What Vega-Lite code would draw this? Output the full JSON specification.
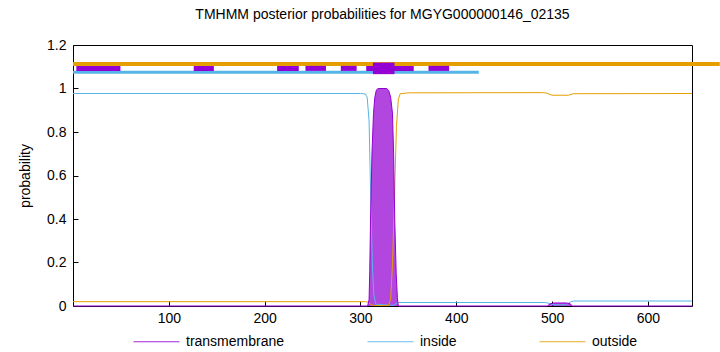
{
  "$schema": "https://vega.github.io/schema/vega-lite/v6.json",
  "width": 619,
  "height": 261,
  "autosize": {"type": "none"},
  "padding": {"left": 73, "top": 45, "right": 28, "bottom": 46},
  "config": {
    "font": "Liberation Sans",
    "view": {"stroke": "black", "strokeWidth": 1},
    "axis": {"grid": false, "domain": false, "labelFontSize": 14, "titleFontSize": 14, "titleFontWeight": "normal", "labelColor": "black", "titleColor": "black", "tickColor": "black", "tickSize": -5, "labelPadding": 12},
    "legend": {"symbolType": "stroke", "symbolSize": 2116, "symbolStrokeWidth": 1, "labelFontSize": 14, "labelColor": "black"}
  },
  "title": {"text": "TMHMM posterior probabilities for MGYG000000146_02135", "fontSize": 14, "fontWeight": "normal", "offset": 16, "color": "black"},
  "datasets": {
    "curves": [
      {"series": "inside", "pos": 0, "p": 0.977},
      {"series": "inside", "pos": 300, "p": 0.977},
      {"series": "inside", "pos": 305, "p": 0.975},
      {"series": "inside", "pos": 307, "p": 0.96},
      {"series": "inside", "pos": 309, "p": 0.85},
      {"series": "inside", "pos": 310.7, "p": 0.5},
      {"series": "inside", "pos": 312.5, "p": 0.18},
      {"series": "inside", "pos": 314, "p": 0.05},
      {"series": "inside", "pos": 316, "p": 0.008},
      {"series": "inside", "pos": 334, "p": 0.003},
      {"series": "inside", "pos": 337, "p": 0.01},
      {"series": "inside", "pos": 340, "p": 0.016},
      {"series": "inside", "pos": 400, "p": 0.016},
      {"series": "inside", "pos": 493, "p": 0.016},
      {"series": "inside", "pos": 497, "p": 0.012},
      {"series": "inside", "pos": 501, "p": 0.006},
      {"series": "inside", "pos": 515, "p": 0.006},
      {"series": "inside", "pos": 519, "p": 0.018},
      {"series": "inside", "pos": 522, "p": 0.023},
      {"series": "inside", "pos": 646, "p": 0.023},
      {"series": "outside", "pos": 0, "p": 0.02},
      {"series": "outside", "pos": 305, "p": 0.02},
      {"series": "outside", "pos": 308, "p": 0.017},
      {"series": "outside", "pos": 311, "p": 0.006},
      {"series": "outside", "pos": 315, "p": 0.002},
      {"series": "outside", "pos": 329, "p": 0.002},
      {"series": "outside", "pos": 331.5, "p": 0.03},
      {"series": "outside", "pos": 333.5, "p": 0.2},
      {"series": "outside", "pos": 335.5, "p": 0.5},
      {"series": "outside", "pos": 337.5, "p": 0.82},
      {"series": "outside", "pos": 339.5, "p": 0.95},
      {"series": "outside", "pos": 341.5, "p": 0.976},
      {"series": "outside", "pos": 350, "p": 0.98},
      {"series": "outside", "pos": 490, "p": 0.981},
      {"series": "outside", "pos": 494, "p": 0.979},
      {"series": "outside", "pos": 500, "p": 0.969},
      {"series": "outside", "pos": 517, "p": 0.969},
      {"series": "outside", "pos": 522, "p": 0.976},
      {"series": "outside", "pos": 646, "p": 0.977},
      {"series": "transmembrane", "pos": 0, "p": 0},
      {"series": "transmembrane", "pos": 307.5, "p": 0.0},
      {"series": "transmembrane", "pos": 309, "p": 0.03},
      {"series": "transmembrane", "pos": 309.7, "p": 0.16},
      {"series": "transmembrane", "pos": 310.5, "p": 0.39},
      {"series": "transmembrane", "pos": 312, "p": 0.7},
      {"series": "transmembrane", "pos": 313.6, "p": 0.886},
      {"series": "transmembrane", "pos": 315, "p": 0.96},
      {"series": "transmembrane", "pos": 316.6, "p": 0.993},
      {"series": "transmembrane", "pos": 318.5, "p": 1.0},
      {"series": "transmembrane", "pos": 327.5, "p": 1.0},
      {"series": "transmembrane", "pos": 329.5, "p": 0.99},
      {"series": "transmembrane", "pos": 331.5, "p": 0.96},
      {"series": "transmembrane", "pos": 333.4, "p": 0.886},
      {"series": "transmembrane", "pos": 334.6, "p": 0.7},
      {"series": "transmembrane", "pos": 335.8, "p": 0.39},
      {"series": "transmembrane", "pos": 337.3, "p": 0.15},
      {"series": "transmembrane", "pos": 338.5, "p": 0.04},
      {"series": "transmembrane", "pos": 339.5, "p": 0.0},
      {"series": "transmembrane", "pos": 495, "p": 0.0},
      {"series": "transmembrane", "pos": 498, "p": 0.01},
      {"series": "transmembrane", "pos": 502, "p": 0.014},
      {"series": "transmembrane", "pos": 515, "p": 0.014},
      {"series": "transmembrane", "pos": 519, "p": 0.01},
      {"series": "transmembrane", "pos": 521, "p": 0.0},
      {"series": "transmembrane", "pos": 646, "p": 0.0}
    ],
    "bars": [
      {"series": "outside", "start": 0, "end": 675, "lo": 1.104, "hi": 1.122},
      {"series": "inside", "start": 0, "end": 423.5, "lo": 1.068, "hi": 1.082},
      {"series": "transmembrane", "start": 3.5, "end": 49.5, "lo": 1.081, "hi": 1.104},
      {"series": "transmembrane", "start": 126, "end": 147, "lo": 1.081, "hi": 1.104},
      {"series": "transmembrane", "start": 213, "end": 235.6, "lo": 1.081, "hi": 1.104},
      {"series": "transmembrane", "start": 242.6, "end": 264, "lo": 1.081, "hi": 1.104},
      {"series": "transmembrane", "start": 279.5, "end": 296, "lo": 1.081, "hi": 1.104},
      {"series": "transmembrane", "start": 306, "end": 355.6, "lo": 1.081, "hi": 1.104},
      {"series": "transmembrane", "start": 313, "end": 335.5, "lo": 1.066, "hi": 1.119},
      {"series": "transmembrane", "start": 371, "end": 392.5, "lo": 1.081, "hi": 1.104}
    ]
  },
  "layer": [
    {
      "data": {"name": "curves"},
      "transform": [{"filter": "datum.series === 'transmembrane'"}],
      "mark": {"type": "area", "color": "#9400d3", "opacity": 0.72, "interpolate": "linear"},
      "encoding": {
        "x": {"field": "pos", "type": "quantitative", "scale": {"domain": [0, 646], "nice": false, "zero": false}, "axis": {"values": [100, 200, 300, 400, 500, 600], "title": null, "labelPadding": 10}},
        "y": {"field": "p", "type": "quantitative", "scale": {"domain": [0, 1.2], "nice": false}, "axis": {"values": [0, 0.2, 0.4, 0.6, 0.8, 1, 1.2], "format": "~g", "title": "probability", "titlePadding": 14}}
      }
    },
    {
      "data": {"name": "curves"},
      "mark": {"type": "line", "strokeWidth": 1, "interpolate": "linear"},
      "encoding": {
        "x": {"field": "pos", "type": "quantitative"},
        "y": {"field": "p", "type": "quantitative"},
        "color": {"field": "series", "type": "nominal", "scale": {"domain": ["transmembrane", "inside", "outside"], "range": ["#9400d3", "#56b4e9", "#e69f00"]},
          "legend": {"title": null, "orient": "none", "direction": "horizontal", "legendX": 60, "legendY": 273, "labelOffset": 6, "columnPadding": 80,
            "encode": {"symbols": {"update": {"fill": {"value": "transparent"}, "strokeWidth": {"value": 1}, "opacity": {"value": 0.85}}}}}}
      }
    },
    {
      "data": {"name": "bars"},
      "mark": {"type": "rect", "clip": false},
      "encoding": {
        "x": {"field": "start", "type": "quantitative"},
        "x2": {"field": "end"},
        "y": {"field": "lo", "type": "quantitative"},
        "y2": {"field": "hi"},
        "color": {"field": "series", "type": "nominal", "legend": null}
      }
    }
  ]
}
